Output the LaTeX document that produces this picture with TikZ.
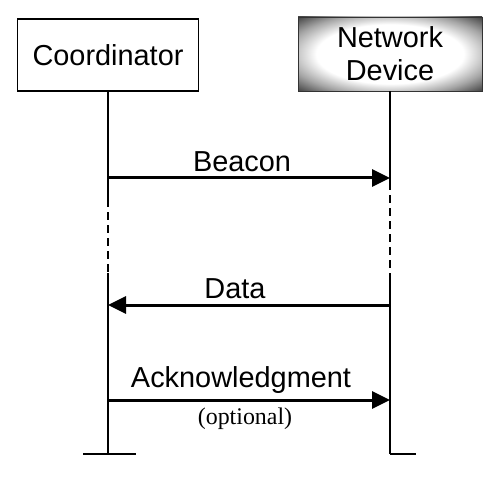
\documentclass[tikz,border=0pt]{standalone}
\usepackage{fontspec}
\setmainfont{Liberation Sans}
\newfontfamily\serifname{Liberation Serif}
\usetikzlibrary{arrows.meta}
\pgfdeclareradialshading{devglow}{\pgfpoint{0bp}{0bp}}{color(0bp)=(white); color(20bp)=(white); color(28bp)=(black!35); color(35bp)=(black!72); color(50bp)=(black!85)}

\begin{document}
\begin{tikzpicture}[x=1bp, y=-1bp,
    lbl/.style={font=\fontsize{29}{33}\selectfont, inner sep=0pt},
    msg/.style={line width=3bp, -{Triangle[length=18bp,width=17bp]}},
    life/.style={line width=1.4bp}]

    \useasboundingbox (0,0) rectangle (497,482);

    % Nodes
    \node at (108,55) (coord) [draw, line width=1.2bp, minimum width=181bp, minimum height=72bp, lbl] {Coordinator};
    \node at (390,54) (dev) [shade, shading=devglow, draw=black!80, minimum width=184bp, minimum height=74bp, lbl, align=center] {Network\\Device};

    \coordinate (c1) at (108,207);
    \coordinate (c2) at (108,273);
    \coordinate (cend) at (108,454);
    \coordinate (d1) at (390,190);
    \coordinate (d2) at (390,273);
    \coordinate (dend) at (390,454);

    % Lifelines
    \draw[life] (coord.south) -- (c1);
    \foreach \y in {212,225,...,265} \draw[life] (108,\y) -- ++(0,8);
    \draw[life] (c2) -- (cend);
    \draw[life] (dev.south) -- (d1);
    \foreach \y in {195,208,...,265} \draw[life] (390,\y) -- ++(0,8);
    \draw[life] (d2) -- (dend);
    \draw[line width=1.8bp] (83,454) -- (cend) -- (136,454);
    \draw[line width=1.8bp] (dend) -- (416,454);

    % Arrows
    \coordinate (b1) at (108,178);
    \coordinate (b2) at (390,178);
    \coordinate (a1) at (390,305);
    \coordinate (a2) at (108,305);
    \coordinate (k1) at (108,400);
    \coordinate (k2) at (390,400);
    \draw[msg] (b1) -- node[above=5bp, lbl, xshift=-7bp] (beacon) {Beacon} (b2);
    \draw[msg] (a1) -- node[above=5bp, lbl, xshift=-14bp] (data) {Data} (a2);
    \draw[msg] (k1) -- node[above=5bp, lbl, xshift=-8bp] (ack) {Acknowledgment} (k2);
    \node at (245,419) (opt) {\fontsize{24}{26}\selectfont\serifname (optional)};

\end{tikzpicture}
\end{document}
